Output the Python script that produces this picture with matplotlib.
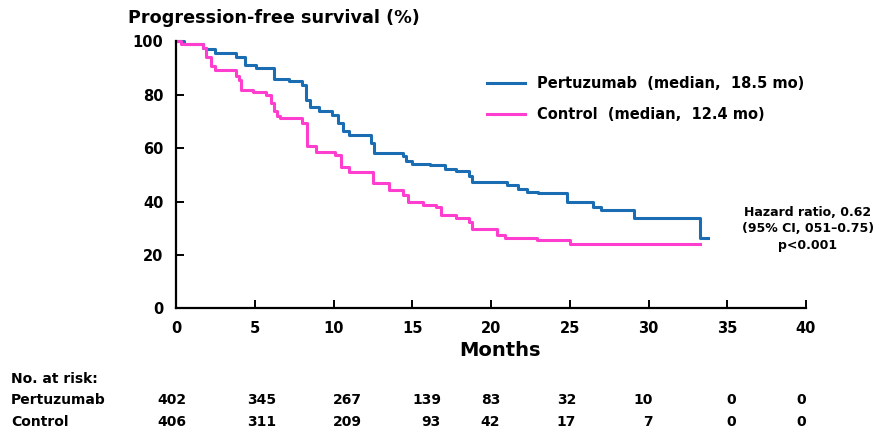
import matplotlib
matplotlib.use("Agg")
import matplotlib.pyplot as plt

# Kaplan-Meier steps (months, % progression-free)
pert_t = [0, 0.5, 1.7, 1.9, 2.5, 3.8, 4.4, 5.1, 6.2, 7.2, 8.0, 8.25, 8.5, 9.1,
          9.9, 10.3, 10.6, 11.0, 12.4, 12.6, 14.4, 14.6, 15.0, 16.1, 17.1, 17.8,
          18.6, 18.8, 21.0, 21.7, 22.3, 23.0, 24.8, 26.5, 27.0, 29.1, 33.25, 33.8]
pert_s = [100, 99, 97.5, 97, 95.5, 94, 91, 90, 86, 85, 83.5, 78, 75.5, 74,
          72.5, 69.5, 66.5, 65, 62, 58, 57, 55, 54, 53.5, 52, 51.5,
          49.5, 47.2, 46, 44.5, 43.4, 43, 39.8, 38, 36.8, 33.8, 26.3, 26.3]

ctrl_t = [0, 0.3, 1.7, 1.9, 2.2, 2.5, 3.8, 4.0, 4.1, 4.9, 5.7, 6.0, 6.2, 6.4,
          6.6, 8.0, 8.3, 8.9, 10.1, 10.5, 11.0, 12.3, 12.5, 13.5, 14.4, 14.7,
          15.7, 16.5, 16.8, 17.8, 18.6, 18.8, 20.4, 20.9, 22.9, 25.0, 33.25]
ctrl_s = [100, 99, 97.5, 94, 90.6, 89.4, 86.9, 85.6, 81.9, 80.9, 80, 77, 74, 72,
          71.2, 69.4, 60.6, 58.7, 57.5, 53.1, 51.2, 51, 46.9, 44.4, 42.5, 40,
          38.7, 38.1, 35, 33.7, 32.5, 29.6, 27.5, 26.2, 25.6, 24, 24]

risk_months = [0, 5, 10, 15, 20, 25, 30, 35, 40]
risk_pert = [402, 345, 267, 139, 83, 32, 10, 0, 0]
risk_ctrl = [406, 311, 209, 93, 42, 17, 7, 0, 0]

BLUE = "#1b6db3"
PINK = "#ff3dcf"
W, H = 881, 430

fig = plt.figure(figsize=(W / 100, H / 100), dpi=100)
ax = fig.add_axes([176 / W, 1 - 308.3 / H, 630 / W, 267 / H])

ax.step(pert_t, pert_s, where="post", color=BLUE, lw=2.2, clip_on=False,
        label="Pertuzumab  (median,  18.5 mo)")
ax.step(ctrl_t, ctrl_s, where="post", color=PINK, lw=2.2, clip_on=False,
        label="Control  (median,  12.4 mo)")

ax.set_xlim(0, 40)
ax.set_ylim(0, 100)
ax.set_xticks(range(0, 41, 5))
ax.set_yticks(range(0, 101, 20))
for s in ["top", "right"]:
    ax.spines[s].set_visible(False)
for s in ["left", "bottom"]:
    ax.spines[s].set_linewidth(1.6)
ax.tick_params(direction="in", length=6, width=1.4, labelsize=10.5, pad=9)
for lab in ax.get_xticklabels() + ax.get_yticklabels():
    lab.set_fontweight("bold")

leg = ax.legend(loc="upper left", bbox_to_anchor=(0.494, 0.869), frameon=False,
                borderpad=0, borderaxespad=0, handlelength=2.6, handletextpad=0.8,
                labelspacing=1.1, prop={"weight": "bold", "size": 10.5})

fig.text(128 / W, 1 - 18 / H, "Progression-free survival (%)", fontsize=12.7,
         fontweight="bold", va="center", ha="left")
fig.text(808 / W, 1 - 229 / H, "Hazard ratio, 0.62\n(95% CI, 051\u20130.75)\np<0.001",
         fontsize=9, fontweight="bold", ha="center", va="center", linespacing=1.3)

fig.text(500 / W, 1 - 350 / H, "Months", fontsize=14, fontweight="bold",
         ha="center", va="center")
fig.text(11 / W, 1 - 379 / H, "No. at risk:", fontsize=10, fontweight="bold",
         va="center")
fig.text(11 / W, 1 - 400 / H, "Pertuzumab", fontsize=10, fontweight="bold",
         va="center")
fig.text(11 / W, 1 - 422 / H, "Control", fontsize=10, fontweight="bold",
         va="center")

col_right = [186, 276, 362, 441, 500, 576, 653, 736, 806]
for xr, a, b in zip(col_right, risk_pert, risk_ctrl):
    fig.text(xr / W, 1 - 400 / H, str(a), fontsize=10, fontweight="bold",
             ha="right", va="center")
    fig.text(xr / W, 1 - 422 / H, str(b), fontsize=10, fontweight="bold",
             ha="right", va="center")

fig.savefig("out.png", dpi=100)
